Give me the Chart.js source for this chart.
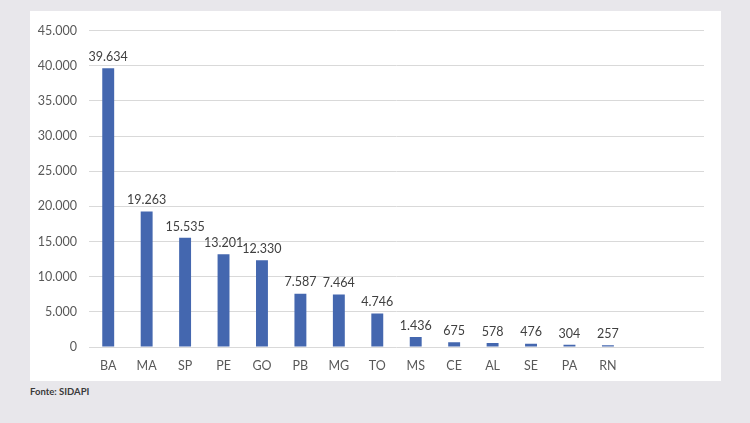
<!DOCTYPE html>
<html><head><meta charset="utf-8">
<script src="https://cdn.jsdelivr.net/npm/chart.js@4.4.1/dist/chart.umd.min.js"></script>
<style>
html,body{margin:0;padding:0;background:#e8e7eb;width:750px;height:423px;overflow:hidden;font-family:Lato,"Open Sans",sans-serif;}
#panel{position:absolute;left:30px;top:11px;width:691px;height:370px;background:#fff;}
#foot{position:absolute;left:30px;top:386px;font-size:9.5px;font-weight:bold;color:#3a3a3a;}
</style></head><body>
<div id="panel"><canvas id="c" width="691" height="370"></canvas></div>
<div id="foot">Fonte: SIDAPI</div>
<script>
const categories = ["BA","MA","SP","PE","GO","PB","MG","TO","MS","CE","AL","SE","PA","RN","",""];
const values = [39634,19263,15535,13201,12330,7587,7464,4746,1436,675,578,476,304,257,null,null];
const yTicks = [0,5000,10000,15000,20000,25000,30000,35000,40000,45000];

function fmt(v){return String(Math.round(v)).replace(/\B(?=(\d{3})+(?!\d))/g,".");}

const labelPlugin = {
  id:'lbl',
  afterDatasetsDraw(chart){
    const ctx=chart.ctx; const meta=chart.getDatasetMeta(0);
    ctx.save();
    ctx.font='12.5px Lato'; ctx.fillStyle='#404040'; ctx.textAlign='center'; ctx.textBaseline='bottom';
    meta.data.forEach((bar,i)=>{
      const v=values[i]; if(v==null) return;
      ctx.fillText(fmt(v), bar.x, bar.y-5);
    });
    ctx.restore();
  }
};

new Chart(document.getElementById('c'),{
  type:'bar',
  data:{labels:categories,datasets:[{data:values,backgroundColor:'#4467af',barPercentage:0.31,categoryPercentage:1}]},
  options:{
    responsive:false,animation:false,
    layout:{padding:{left:0,right:17,top:18,bottom:0}},
    plugins:{legend:{display:false},tooltip:{enabled:false}},
    scales:{
      x:{grid:{display:false,drawTicks:false},border:{display:false},
         afterFit(s){s.height=34;},
         ticks:{color:'#595959',font:{family:'Lato',size:12.5},padding:11,maxRotation:0,autoSkip:false}},
      y:{min:0,max:45000,
         afterBuildTicks(s){s.ticks=yTicks.map(v=>({value:v}));},
         afterFit(s){s.width=59;},
         grid:{color:'#d9d9d9',drawTicks:false},border:{display:false},
         ticks:{color:'#595959',font:{family:'Lato',size:12.5},padding:12,callback:v=>fmt(v)}}
    }
  },
  plugins:[labelPlugin]
});
</script>
</body></html>
